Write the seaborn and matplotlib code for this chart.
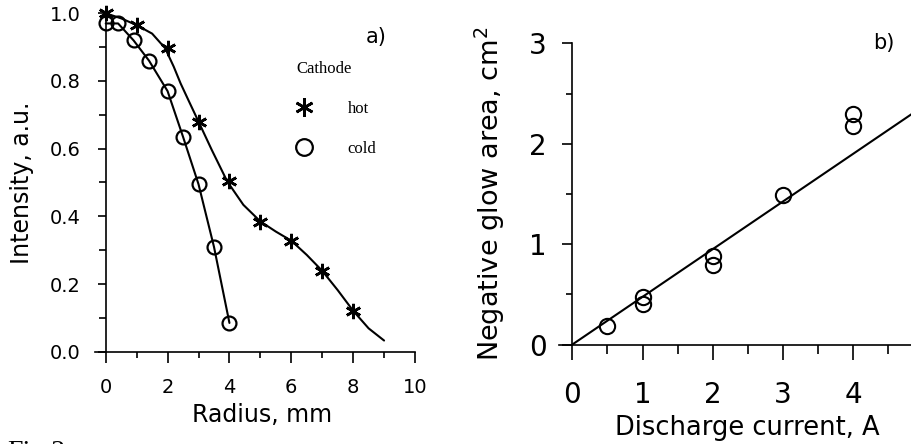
import numpy as np
import pandas as pd
import matplotlib
matplotlib.use("Agg")
import matplotlib.pyplot as plt
from matplotlib.ticker import MultipleLocator
import seaborn as sns

# ---- data: panel a) ----
hot_x = [0, 1, 2, 3, 4, 5, 6, 7, 8]
hot_y = [1.0, 0.965, 0.898, 0.68, 0.505, 0.384, 0.328, 0.239, 0.121]
hot_curve_x = [0, 0.5, 1, 1.5, 1.92, 2.2, 2.42, 2.67, 3, 3.43, 3.93, 4.45,
               5, 5.5, 6, 6.5, 7, 7.5, 8, 8.5, 9]
hot_curve_y = [1.0, 0.985, 0.965, 0.94, 0.897, 0.842, 0.793, 0.744, 0.68,
               0.596, 0.503, 0.434, 0.385, 0.355, 0.328, 0.286, 0.239,
               0.182, 0.121, 0.069, 0.033]
cold_x = [0, 0.4, 0.9, 1.4, 2.0, 2.5, 3.0, 3.5, 4.0]
cold_y = [0.97, 0.97, 0.92, 0.86, 0.77, 0.635, 0.495, 0.31, 0.085]

# ---- data: panel b) ----
cur_x = [0.5, 1, 1, 2, 2, 3, 4, 4]
area_y = [0.18, 0.47, 0.40, 0.88, 0.79, 1.49, 2.30, 2.18]
fit_x = [0, 5]
fit_y = [0, 2.375]

a_xticks = [0, 2, 4, 6, 8, 10]
a_yticks = [0.0, 0.2, 0.4, 0.6, 0.8, 1.0]
b_xticks = [0, 1, 2, 3, 4, 5]
b_xticklabels = ["0", "1", "2", "3", "4", ""]
b_yticks = [0, 1, 2, 3]

sns.set_theme(style="ticks")
plt.rcParams["font.family"] = ["DejaVu Sans"]
plt.rcParams["axes.linewidth"] = 1.2
for k in ["text.color", "axes.labelcolor", "xtick.color", "ytick.color",
          "axes.edgecolor", "xtick.labelcolor", "ytick.labelcolor"]:
    plt.rcParams[k] = "black"

fig = plt.figure(figsize=(9.11, 4.44), dpi=100)
W, H = 911.0, 444.0

# ---------------- panel a ----------------
axa = fig.add_axes([94.9 / W, (H - 351.7) / H, 320.1 / W, 338.4 / H])
sns.lineplot(x=hot_curve_x, y=hot_curve_y, ax=axa, color="black", lw=1.5,
             sort=False, estimator=None)
sns.lineplot(x=cold_x, y=cold_y, ax=axa, color="black", lw=1.5,
             sort=False, estimator=None)
sns.lineplot(x=hot_x, y=hot_y, ax=axa, color="black", ls="none",
             marker=(6, 2, 0), markersize=11, markeredgewidth=1.9,
             markeredgecolor="black",
             sort=False, estimator=None, label="hot")
sns.lineplot(x=cold_x, y=cold_y, ax=axa, color="black", ls="none",
             marker="o", markersize=10, markerfacecolor="none",
             markeredgecolor="black", markeredgewidth=1.6,
             sort=False, estimator=None, label="cold")
for ln in axa.lines:
    ln.set_clip_on(False)

axa.set_xlim(-0.35, 10)
axa.set_ylim(0, 1.0)
axa.spines["left"].set_position(("data", 0))
axa.spines["right"].set_visible(False)
axa.spines["top"].set_visible(False)
axa.set_xticks(a_xticks)
axa.set_yticks(a_yticks)
axa.set_yticklabels([f"{v:.1f}" for v in a_yticks])
axa.xaxis.set_minor_locator(MultipleLocator(1))
axa.yaxis.set_minor_locator(MultipleLocator(0.1))
axa.tick_params(axis="x", which="major", direction="out", length=8, width=1.2,
                labelsize=14, pad=11, colors="black")
axa.tick_params(axis="x", which="minor", direction="out", length=4.5, width=1.2)
axa.tick_params(axis="y", which="major", direction="out", length=6, width=1.2,
                labelsize=14, pad=12, colors="black")
axa.tick_params(axis="y", which="minor", direction="out", length=5, width=1.2)
axa.set_xlabel("Radius, mm", fontsize=17, va="center")
axa.xaxis.set_label_coords(0.522, -0.187)
axa.set_ylabel("Intensity, a.u.", fontsize=17, va="center")
axa.yaxis.set_label_coords(-0.229, 0.5)

handles, labels = axa.get_legend_handles_labels()
leg = axa.legend(handles, labels, title="Cathode", loc="upper left",
                 bbox_to_anchor=(0.628, 0.86), frameon=False,
                 prop={"family": "Liberation Serif", "size": 12},
                 title_fontproperties={"family": "Liberation Serif", "size": 12},
                 handlelength=1.0, handletextpad=2.1, labelspacing=1.45,
                 borderpad=0, borderaxespad=0, markerscale=1.2)
leg._legend_box.align = "left"
axa.text(0.878, 0.93, "a)", transform=axa.transAxes, fontsize=15,
         ha="center", va="center")

# ---------------- panel b ----------------
axb = fig.add_axes([559 / W, (H - 344.5) / H, 364.5 / W, 301.2 / H])
sns.lineplot(x=fit_x, y=fit_y, ax=axb, color="black", lw=1.5,
             sort=False, estimator=None)
sns.lineplot(x=cur_x, y=area_y, ax=axb, color="black", ls="none",
             marker="o", markersize=11, markerfacecolor="none",
             markeredgecolor="black", markeredgewidth=1.5,
             sort=False, estimator=None)
axb.set_xlim(-0.19, 5)
axb.set_ylim(0, 3)
axb.spines["left"].set_position(("data", 0))
axb.spines["right"].set_visible(False)
axb.spines["top"].set_visible(False)
axb.set_xticks(b_xticks)
axb.set_xticklabels(b_xticklabels)
axb.set_yticks(b_yticks)
axb.xaxis.set_minor_locator(MultipleLocator(0.5))
axb.yaxis.set_minor_locator(MultipleLocator(0.5))
axb.tick_params(axis="x", which="major", direction="out", length=10.5, width=1.2,
                labelsize=20, pad=16, colors="black")
axb.tick_params(axis="x", which="minor", direction="out", length=6.5, width=1.2)
axb.tick_params(axis="y", which="major", direction="out", length=7.5, width=1.2,
                labelsize=20, pad=11, colors="black")
axb.tick_params(axis="y", which="minor", direction="out", length=4.5, width=1.2)
axb.set_xlabel("Discharge current, A", fontsize=18.5, va="center")
axb.xaxis.set_label_coords(0.518, -0.277)
axb.set_ylabel("Negative glow area, cm$^2$", fontsize=19.5, va="center")
axb.yaxis.set_label_coords(-0.189, 0.5)
axb.text(0.892, 1.0, "b)", transform=axb.transAxes, fontsize=15,
         ha="center", va="center")

fig.text(7 / W, -0.034, "Fig.2", family="Liberation Serif", fontsize=20,
         ha="left", va="baseline")

fig.savefig("out.png", dpi=100)
